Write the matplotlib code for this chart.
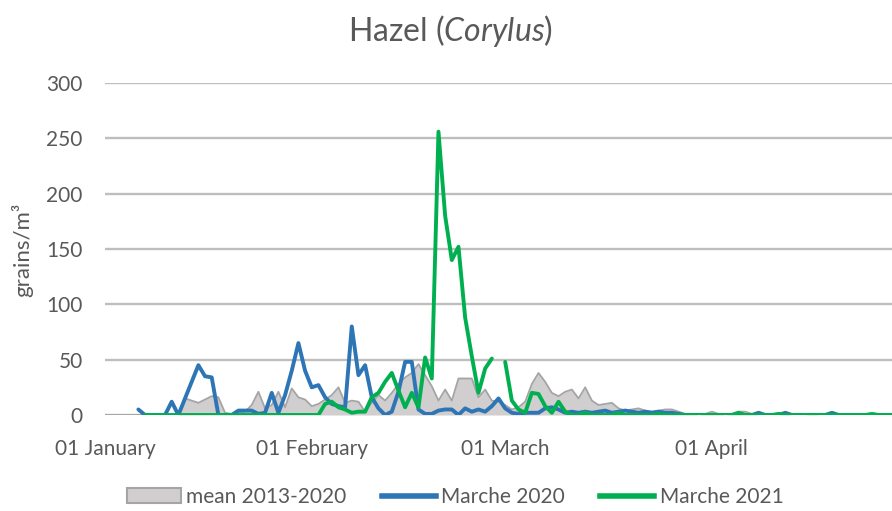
import numpy as np
import matplotlib
matplotlib.use("Agg")
import matplotlib.pyplot as plt
from matplotlib.patches import Patch
from matplotlib.lines import Line2D

plt.rcParams['font.family'] = ['Lato', 'DejaVu Sans']
plt.rcParams['mathtext.fontset'] = 'custom'
plt.rcParams['mathtext.rm'] = 'Lato'
plt.rcParams['mathtext.it'] = 'Lato:italic'

nan = np.nan

# day index 0 = 01 January, daily values up to late April
tick_days = [0, 31, 60, 91]
tick_labels = ['01 January', '01 February', '01 March', '01 April']

mean_2013_2020 = [0] * 12 + [
    15, 13, 11, 14, 17, 16, 2, 1, 2, 3, 9, 21, 6, 9, 21, 7, 24, 16,          # d12-29
    14, 8, 10, 14, 18, 25, 11, 13, 12, 3, 11, 18, 13, 20, 28, 34, 38,        # d30-46
    46, 36, 26, 13, 23, 13, 33, 33, 33, 16, 23, 13, 12, 9, 5, 7, 12,         # d47-63
    28, 38, 30, 20, 17, 21, 23, 15, 25, 13, 9, 10, 11, 6, 4, 5, 6,           # d64-80
    4, 3, 4, 5, 5, 3, 1, 1, 0, 1, 3, 1, 0, 1, 3, 3, 1, 0,                    # d81-98
    0, 0, 0, 1, 0, 0, 0, 1, 0, 0, 0, 0, 0, 0, 0, 0, 0, 0, 0, 0,              # d99-118
]

marche_2020 = [nan] * 5 + [
    5, 0, 0, 0, 0, 12, 0, 15, 30, 45, 35, 34, 0, 0, 0, 4, 4, 4, 1, 2,        # d5-24
    20, 2, 18, 40, 65, 40, 25, 27, 16, 10, 8, 7, 80, 36, 45, 16, 6, 0,       # d25-42
    3, 21, 48, 48, 5, 1, 1, 4, 5, 5, 0, 6, 3, 5, 3, 8, 15, 6, 2,             # d43-61
    1, 2, 2, 2, 6, 7, 5, 2, 3, 2, 3, 2, 3, 4, 2, 3, 4, 3, 2, 3,              # d62-81
    2, 3, 2, 2, 1, 0, 0, 0, 0, 0, 0, 0, 0, 0, 0, 0, 2, 0, 0, 0,              # d82-101
    2, 0, 0, 0, 0, 0, 0, 2, 0, 0, 0, 0, 0, 0, 0, 0, 0,                       # d102-118
]

marche_2021 = [nan] * 6 + [0] * 27 + [
    10, 12, 7, 5, 2, 3, 3, 16, 20, 30, 38, 22, 7, 20, 7, 52, 33,             # d33-49
    256, 180, 140, 152, 88, 53, 20, 42, 51, nan, 48, 13, 5, 2, 20, 19,       # d50-65
    8, 2, 12, 3, 0, 0, 2, 0, 0, 0, 0, 2, 0, 0, 0, 0, 0, 1, 0, 0,             # d66-85
    0, 0, 0, 0, 0, 0, 0, 0, 0, 2, 0, 0, 0, 0, 0, 1, 0, 0, 0, 0,              # d86-105
    0, 0, 0, 0, 0, 0, 0, 0, 0, 1, 0, 0, 0,                                   # d106-118
]

days = np.arange(len(mean_2013_2020))

grey_fill = '#D0CECE'
grey_edge = '#A5A5A5'
blue = '#2E75B6'
green = '#00B050'
txt = '#595959'

fig = plt.figure(figsize=(8.92, 5.11), dpi=100)
ax = fig.add_axes([105 / 892, 96 / 511, 787 / 892, 332 / 511])

ax.fill_between(days, mean_2013_2020, 0, color=grey_fill, lw=0, zorder=2)
ax.plot(days, mean_2013_2020, color=grey_edge, lw=1.3, zorder=2)
ax.plot(np.arange(len(marche_2020)), marche_2020, color=blue, lw=2.8, zorder=3,
        solid_joinstyle='round', solid_capstyle='round')
ax.plot(np.arange(len(marche_2021)), marche_2021, color=green, lw=2.8, zorder=4,
        solid_joinstyle='round', solid_capstyle='round')

ax.set_xlim(0, len(days) - 1)
ax.set_ylim(0, 300)
ax.set_yticks(range(0, 301, 50))
ax.set_xticks(tick_days)
ax.set_xticklabels(tick_labels)
ax.tick_params(axis='both', length=0, colors=txt, labelsize=15)
ax.tick_params(axis='x', pad=17)
ax.tick_params(axis='y', pad=16)
for s in ax.spines.values():
    s.set_visible(False)
ax.yaxis.grid(True, color='#BEBEBE', lw=1.7, zorder=1)
ax.set_axisbelow(True)
ax.patch.set_alpha(0)

fig.text(450 / 892, 1 - 31 / 511, r'Hazel ($\mathit{Corylus}$)', ha='center', va='center',
         fontsize=23, color=txt)
fig.text(22 / 892, 1 - 250 / 511, 'grains/m³', rotation=90, ha='center', va='center',
         fontsize=16, color=txt)

handles = [
    Patch(facecolor=grey_fill, edgecolor=grey_edge, lw=1.5),
    Line2D([0], [0], color=blue, lw=4),
    Line2D([0], [0], color=green, lw=4),
]
fig.legend(handles, ['mean 2013-2020', 'Marche 2020', 'Marche 2021'], loc='center',
           bbox_to_anchor=(455 / 892, 14 / 511), ncol=3, frameon=False, fontsize=15,
           handlelength=2.6, handletextpad=0.25, columnspacing=1.7, labelcolor=txt)

fig.savefig('out.png', dpi=100)
